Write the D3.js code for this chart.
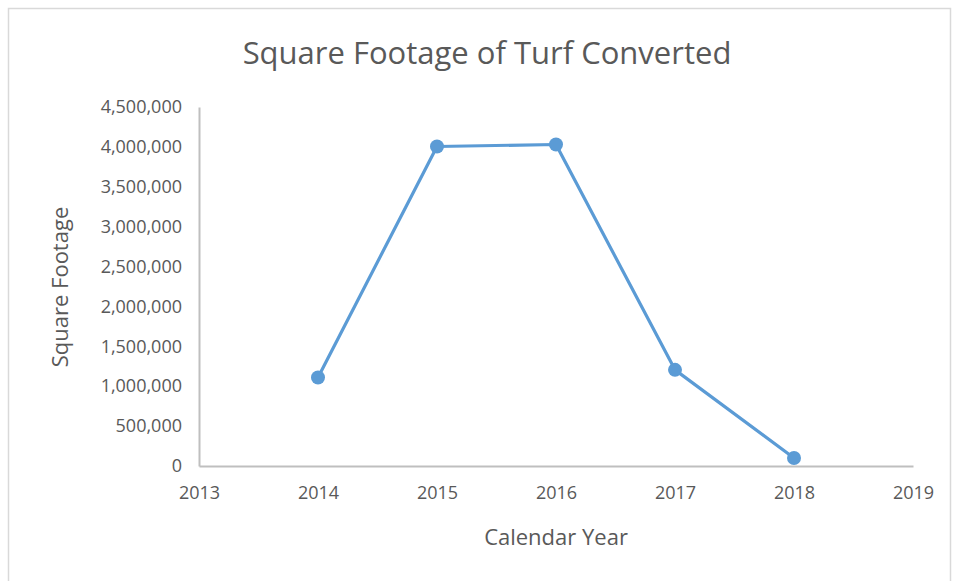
<!DOCTYPE html>
<html>
<head>
<meta charset="utf-8">
<script src="https://d3js.org/d3.v7.min.js"></script>
<style>
  body { margin: 0; background: #fff; }
  text { font-family: "Open Sans", sans-serif; fill: #595959; }
</style>
</head>
<body>
<div id="chart"></div>
<script>
// data
var years = [2014, 2015, 2016, 2017, 2018];
var sqft = [1110000, 4005000, 4030000, 1205000, 100000];
var xTicks = [2013, 2014, 2015, 2016, 2017, 2018, 2019];
var yTicks = [0, 500000, 1000000, 1500000, 2000000, 2500000, 3000000, 3500000, 4000000, 4500000];

var svgWidth = 956;
var svgHeight = 581;

var margin = { top: 107, right: 43, bottom: 115, left: 199 };
var width = svgWidth - margin.left - margin.right;
var height = svgHeight - margin.top - margin.bottom;

var svg = d3.select("#chart")
  .append("svg")
  .attr("width", svgWidth)
  .attr("height", svgHeight);

// outer chart border
svg.append("rect")
  .attr("x", 8.5)
  .attr("y", 8.5)
  .attr("width", svgWidth - 14)
  .attr("height", svgHeight + 20)
  .attr("fill", "none")
  .attr("stroke", "#d9d9d9")
  .attr("stroke-width", 1.5);

var chartGroup = svg.append("g")
  .attr("transform", `translate(${margin.left}, ${margin.top})`);

var xScale = d3.scaleLinear()
  .domain([2013, 2019])
  .range([0, width]);

var yScale = d3.scaleLinear()
  .domain([0, 4500000])
  .range([height, 0]);

// x axis
var xAxis = chartGroup.append("g")
  .attr("transform", `translate(0, ${height})`)
  .call(d3.axisBottom(xScale).tickValues(xTicks).tickFormat(d3.format("d")).tickSize(0).tickPadding(20));

xAxis.select(".domain").attr("stroke", "#bfbfbf").attr("stroke-width", 2);
xAxis.selectAll("text").style("font-size", "18px").attr("fill", "#595959");

// y axis
var yAxis = chartGroup.append("g")
  .call(d3.axisLeft(yScale).tickValues(yTicks).tickFormat(d3.format(",")).tickSize(0).tickPadding(17));

yAxis.select(".domain").attr("stroke", "#bfbfbf").attr("stroke-width", 2);
yAxis.selectAll("text").style("font-size", "18px").attr("fill", "#595959");

// line + markers
var points = years.map((y, i) => ({ year: y, value: sqft[i] }));

var line = d3.line()
  .x(d => xScale(d.year))
  .y(d => yScale(d.value));

chartGroup.append("path")
  .datum(points)
  .attr("d", line)
  .attr("fill", "none")
  .attr("stroke", "#5b9bd5")
  .attr("stroke-width", 3.2)
  .attr("stroke-linejoin", "round");

chartGroup.selectAll("circle")
  .data(points)
  .enter()
  .append("circle")
  .attr("cx", d => xScale(d.year))
  .attr("cy", d => yScale(d.value))
  .attr("r", 7)
  .attr("fill", "#5b9bd5");

// title
svg.append("text")
  .attr("x", 487)
  .attr("y", 64)
  .attr("text-anchor", "middle")
  .style("font-size", "31px")
  .text("Square Footage of Turf Converted");

// axis titles
svg.append("text")
  .attr("x", 556)
  .attr("y", 545)
  .attr("text-anchor", "middle")
  .style("font-size", "22px")
  .text("Calendar Year");

svg.append("text")
  .attr("transform", "rotate(-90)")
  .attr("x", -287)
  .attr("y", 68)
  .attr("text-anchor", "middle")
  .style("font-size", "22px")
  .text("Square Footage");
</script>
</body>
</html>
